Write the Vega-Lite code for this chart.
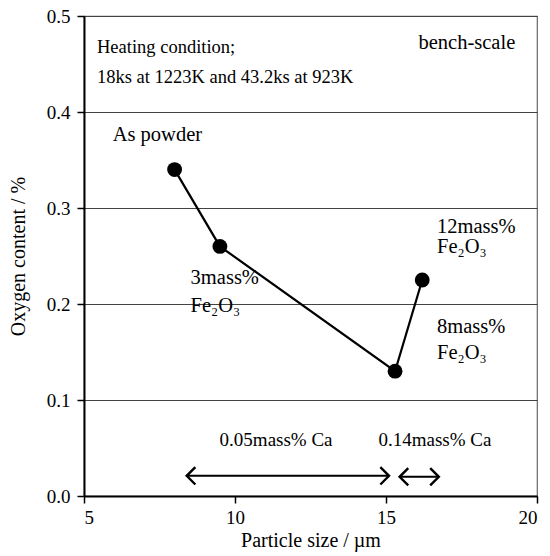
{
  "$schema": "https://vega.github.io/schema/vega-lite/v6.json",
  "width": 453,
  "height": 480,
  "autosize": {"type": "none"},
  "padding": {"left": 84, "top": 16, "right": 13, "bottom": 60},
  "config": {
    "font": "Times New Roman, Liberation Serif, DejaVu Serif, serif",
    "view": {"stroke": "#666", "strokeWidth": 1.2},
    "axis": {
      "labelFont": "Times New Roman, Liberation Serif, DejaVu Serif, serif",
      "titleFont": "Times New Roman, Liberation Serif, DejaVu Serif, serif",
      "labelFontSize": 19,
      "titleFontSize": 20,
      "titleFontWeight": "normal",
      "labelColor": "#000",
      "titleColor": "#000",
      "domainColor": "#000",
      "tickColor": "#000",
      "domainWidth": 2,
      "tickWidth": 1.5,
      "tickSize": 7
    }
  },
  "datasets": {
    "pts": [
      {"size": 8.0, "oxygen": 0.34},
      {"size": 9.5, "oxygen": 0.26},
      {"size": 15.3, "oxygen": 0.13},
      {"size": 16.2, "oxygen": 0.225}
    ],
    "arrows": [
      {"x1": 8.4, "x2": 15.1, "y": 0.021},
      {"x1": 15.45, "x2": 16.75, "y": 0.02}
    ],
    "leftHeads": [
      {"x": 8.4, "y": 0.021},
      {"x": 15.45, "y": 0.02}
    ],
    "rightHeads": [
      {"x": 15.1, "y": 0.021},
      {"x": 16.75, "y": 0.02}
    ],
    "notesLeft": [
      {"x": 5.43, "y": 0.468, "t": "Heating condition;"},
      {"x": 5.43, "y": 0.436, "t": "18ks at 1223K and 43.2ks at 923K"}
    ],
    "notesBig": [
      {"x": 5.95, "y": 0.376, "t": "As powder"},
      {"x": 8.53, "y": 0.227, "t": "3mass%"},
      {"x": 8.53, "y": 0.198, "t": "Fe₂O₃"},
      {"x": 16.69, "y": 0.28, "t": "12mass%"},
      {"x": 16.69, "y": 0.259, "t": "Fe₂O₃"},
      {"x": 16.69, "y": 0.176, "t": "8mass%"},
      {"x": 16.69, "y": 0.149, "t": "Fe₂O₃"}
    ],
    "notesRight": [
      {"x": 19.28, "y": 0.472, "t": "bench-scale"}
    ],
    "notesCa": [
      {"x": 11.36, "y": 0.058, "t": "0.05mass% Ca"},
      {"x": 16.62, "y": 0.058, "t": "0.14mass% Ca"}
    ]
  },
  "layer": [
    {
      "data": {"name": "pts"},
      "mark": {"type": "line", "color": "#000", "strokeWidth": 2.2},
      "encoding": {
        "x": {
          "field": "size", "type": "quantitative",
          "scale": {"domain": [5, 20], "nice": false},
          "axis": {"values": [5, 10, 15, 20], "format": "d", "grid": false, "title": "Particle size / µm", "titlePadding": 3, "labelPadding": 5}
        },
        "y": {
          "field": "oxygen", "type": "quantitative",
          "scale": {"domain": [0, 0.5], "nice": false},
          "axis": {"values": [0, 0.1, 0.2, 0.3, 0.4, 0.5], "format": ".1f", "grid": true, "gridColor": "#444", "gridWidth": 1.2, "gridOpacity": 1, "title": "Oxygen content / %", "titlePadding": 18, "labelPadding": 7}
        }
      }
    },
    {
      "data": {"name": "pts"},
      "mark": {"type": "point", "filled": true, "color": "#000", "size": 220, "opacity": 1},
      "encoding": {
        "x": {"field": "size", "type": "quantitative"},
        "y": {"field": "oxygen", "type": "quantitative"}
      }
    },
    {
      "data": {"name": "arrows"},
      "mark": {"type": "rule", "color": "#000", "strokeWidth": 2},
      "encoding": {
        "x": {"field": "x1", "type": "quantitative"},
        "x2": {"field": "x2"},
        "y": {"field": "y", "type": "quantitative"}
      }
    },
    {
      "data": {"name": "leftHeads"},
      "mark": {"type": "point", "shape": "M 1 -1 L 0 0 L 1 1", "filled": false, "stroke": "#000", "strokeWidth": 2.4, "size": 300, "opacity": 1},
      "encoding": {
        "x": {"field": "x", "type": "quantitative"},
        "y": {"field": "y", "type": "quantitative"}
      }
    },
    {
      "data": {"name": "rightHeads"},
      "mark": {"type": "point", "shape": "M -1 -1 L 0 0 L -1 1", "filled": false, "stroke": "#000", "strokeWidth": 2.4, "size": 300, "opacity": 1},
      "encoding": {
        "x": {"field": "x", "type": "quantitative"},
        "y": {"field": "y", "type": "quantitative"}
      }
    },
    {
      "data": {"name": "notesLeft"},
      "mark": {"type": "text", "align": "left", "baseline": "middle", "fontSize": 18.5, "color": "#000"},
      "encoding": {
        "x": {"field": "x", "type": "quantitative"},
        "y": {"field": "y", "type": "quantitative"},
        "text": {"field": "t"}
      }
    },
    {
      "data": {"name": "notesBig"},
      "mark": {"type": "text", "align": "left", "baseline": "middle", "fontSize": 20.5, "color": "#000"},
      "encoding": {
        "x": {"field": "x", "type": "quantitative"},
        "y": {"field": "y", "type": "quantitative"},
        "text": {"field": "t"}
      }
    },
    {
      "data": {"name": "notesRight"},
      "mark": {"type": "text", "align": "right", "baseline": "middle", "fontSize": 20.5, "color": "#000"},
      "encoding": {
        "x": {"field": "x", "type": "quantitative"},
        "y": {"field": "y", "type": "quantitative"},
        "text": {"field": "t"}
      }
    },
    {
      "data": {"name": "notesCa"},
      "mark": {"type": "text", "align": "center", "baseline": "middle", "fontSize": 19, "color": "#000"},
      "encoding": {
        "x": {"field": "x", "type": "quantitative"},
        "y": {"field": "y", "type": "quantitative"},
        "text": {"field": "t"}
      }
    }
  ]
}
